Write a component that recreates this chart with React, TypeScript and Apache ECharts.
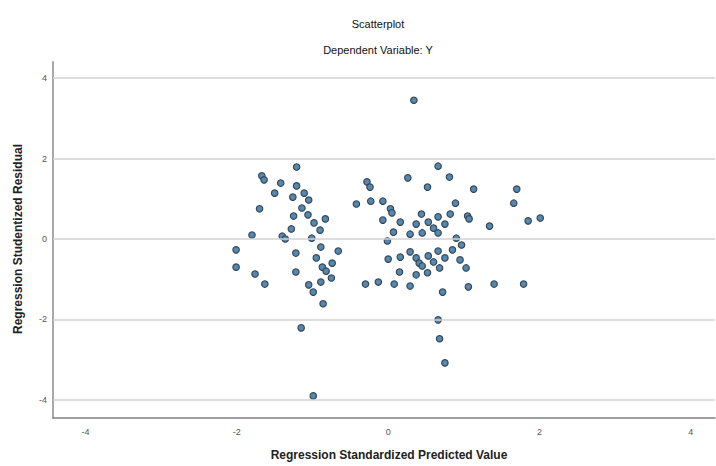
import React, { useEffect, useRef } from "react";
import * as echarts from "echarts";

const titleText = "Scatterplot";
const subtitleText = "Dependent Variable: Y";
const xAxisTitle = "Regression Standardized Predicted Value";
const yAxisTitle = "Regression Studentized Residual";
const tickValues = [-4, -2, 0, 2, 4];

const predicted = [
  -2.01, -2.01, -1.76, -1.63, -1.67, -1.64, -1.5, -1.7, -1.8, -1.42,
  -1.21, -1.21, -1.11, -1.26, -1.05, -1.14, -1.25, -1.06, -0.83, -0.98,
  -0.9, -1.28, -1.4, -1.36, -1.01, -1.22, -0.89, -0.66, -0.95, -0.74,
  -1.22, -0.87, -0.82, -0.75, -0.89, -1.05, -0.99, -0.86, -1.15, -0.99,
  -0.42, -0.28, -0.24, -0.23, -0.3, -0.13, -0.07, 0.03, 0.05, -0.07,
  0.16, 0.07, -0.01, 0.0, 0.16, 0.15, 0.08, 0.29, 0.29, 0.37,
  0.41, 0.45, 0.37, 0.52, 0.53, 0.6, 0.68, 0.66, 0.75, 0.85,
  0.95, 1.03, 1.06, 0.72, 1.4, 1.79, 0.66, 0.68, 0.75, 0.34,
  0.26, 0.66, 0.81, 0.52, 1.13, 1.7, 1.66, 0.89, 0.44, 0.66,
  0.82, 1.05, 1.07, 1.34, 1.85, 2.01, 0.37, 0.53, 0.75, 0.29,
  0.45, 0.6, 0.66, 0.9, 0.97,
];

const residual = [
  -0.27, -0.7, -0.87, -1.12, 1.57, 1.47, 1.14, 0.75, 0.1, 1.39,
  1.79, 1.32, 1.14, 1.04, 0.97, 0.77, 0.57, 0.6, 0.5, 0.4,
  0.22, 0.25, 0.07, 0.0, 0.02, -0.35, -0.2, -0.3, -0.47, -0.6,
  -0.82, -0.7, -0.8, -0.97, -1.07, -1.14, -1.32, -1.61, -2.21, -3.9,
  0.87, 1.42, 1.29, 0.94, -1.12, -1.07, 0.94, 0.75, 0.65, 0.47,
  0.42, 0.17, -0.05, -0.5, -0.45, -0.82, -1.12, -1.17, -0.32, -0.47,
  -0.6, -0.67, -0.89, -0.84, -0.42, -0.57, -0.72, -0.3, -0.47, -0.27,
  -0.52, -0.72, -1.19, -1.32, -1.12, -1.12, -2.01, -2.48, -3.08, 3.45,
  1.52, 1.81, 1.54, 1.29, 1.24, 1.24, 0.89, 0.89, 0.62, 0.55,
  0.62, 0.57, 0.5, 0.32, 0.45, 0.52, 0.37, 0.42, 0.37, 0.12,
  0.15, 0.27, 0.15, 0.02, -0.15,
];

const FONT = "'Liberation Sans', Arial, sans-serif";

export default function App() {
  const ref = useRef<HTMLDivElement>(null);

  useEffect(() => {
    if (!ref.current) return;
    const chart = echarts.init(ref.current, null, { renderer: "svg" });
    const points = predicted.map((x, i) => [x, residual[i]]);
    chart.setOption({
      animation: false,
      backgroundColor: "#ffffff",
      textStyle: { fontFamily: FONT },
      grid: { left: 53, right: 1, top: 62, bottom: 48 },
      title: [
        {
          text: titleText,
          left: 373,
          top: 13,
          textAlign: "center",
          textStyle: { fontSize: 11, fontWeight: 500, color: "#111", fontFamily: FONT },
        },
        {
          text: subtitleText,
          left: 373,
          top: 39,
          textAlign: "center",
          textStyle: { fontSize: 11, fontWeight: 500, color: "#111", fontFamily: FONT },
        },
      ],
      xAxis: {
        type: "value",
        min: -4.43,
        max: 4.32,
        axisLine: { show: true, onZero: false, lineStyle: { color: "#808080", width: 1.5 } },
        axisTick: { show: false },
        splitLine: { show: false },
        axisLabel: {
          customValues: tickValues,
          color: "#555",
          fontSize: 9,
          margin: 9,
          fontFamily: FONT,
        },
      },
      yAxis: {
        type: "value",
        min: -4.45,
        max: 4.4,
        axisLine: { show: true, onZero: false, lineStyle: { color: "#a8a8a8", width: 2 } },
        axisTick: { show: false },
        splitLine: { show: false },
        axisLabel: {
          customValues: tickValues,
          color: "#555",
          fontSize: 9,
          margin: 6,
          fontFamily: FONT,
        },
      },
      graphic: [
        {
          type: "text",
          x: 389,
          y: 455,
          style: {
            text: xAxisTitle,
            fill: "#222",
            font: "bold 12px 'Liberation Sans', Arial, sans-serif",
            align: "center",
            verticalAlign: "middle",
          },
        },
        {
          type: "text",
          x: 18,
          y: 239,
          rotation: Math.PI / 2,
          style: {
            text: yAxisTitle,
            fill: "#222",
            font: "bold 12px 'Liberation Sans', Arial, sans-serif",
            align: "center",
            verticalAlign: "middle",
          },
        },
      ],
      series: [
        {
          type: "scatter",
          data: points,
          symbol: "circle",
          symbolSize: 6.5,
          itemStyle: {
            color: "#5488b0",
            borderColor: "#34444f",
            borderWidth: 1.1,
            opacity: 1,
          },
          markLine: {
            silent: true,
            symbol: ["none", "none"],
            label: { show: false },
            lineStyle: { color: "#d2d2d2", width: 1.5, type: "solid" },
            data: tickValues.map((v) => ({ yAxis: v })),
          },
          z: 3,
        },
      ],
    });
    return () => chart.dispose();
  }, []);

  return (
    <div
      ref={ref}
      style={{ position: "fixed", left: 0, top: 0, width: 716, height: 466 }}
    />
  );
}
